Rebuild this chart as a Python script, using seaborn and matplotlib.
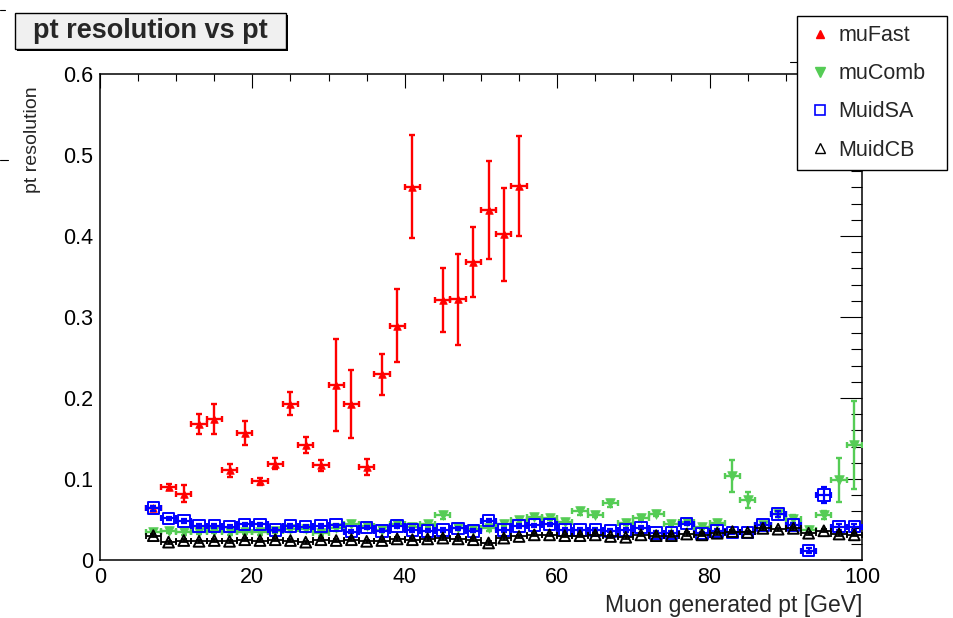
import numpy as np
import pandas as pd
import matplotlib
matplotlib.use("Agg")
import matplotlib.pyplot as plt
from matplotlib.lines import Line2D
from matplotlib.patches import Rectangle
from matplotlib.ticker import MultipleLocator, FuncFormatter
import seaborn as sns

# ---- data ------------------------------------------------------------------
pt_bins = [7, 9, 11, 13, 15, 17, 19, 21, 23, 25, 27, 29, 31, 33, 35, 37, 39, 41,
           43, 45, 47, 49, 51, 53, 55, 57, 59, 61, 63, 65, 67, 69, 71, 73, 75, 77,
           79, 81, 83, 85, 87, 89, 91, 93, 95, 97, 99]

mufast_pt  = [7, 9, 11, 13, 15, 17, 19, 21, 23, 25, 27, 29, 31, 33, 35, 37, 39,
              41, 45, 47, 49, 51, 53, 55]
mufast_res = [0.064, 0.090, 0.082, 0.168, 0.174, 0.111, 0.157, 0.097, 0.119,
              0.193, 0.142, 0.117, 0.216, 0.193, 0.115, 0.229, 0.289, 0.461,
              0.321, 0.322, 0.368, 0.432, 0.402, 0.462]
mufast_err = [0.003, 0.004, 0.010, 0.012, 0.019, 0.008, 0.015, 0.004, 0.007,
              0.014, 0.010, 0.007, 0.057, 0.042, 0.010, 0.025, 0.045, 0.064,
              0.040, 0.056, 0.043, 0.061, 0.057, 0.062]

mucomb_res = [0.034, 0.036, 0.034, 0.035, 0.036, 0.034, 0.035, 0.034, 0.036,
              0.038, 0.038, 0.033, 0.039, 0.045, 0.042, 0.037, 0.045, 0.041,
              0.044, 0.055, 0.040, 0.038, 0.039, 0.045, 0.049, 0.053, 0.052,
              0.047, 0.060, 0.056, 0.070, 0.046, 0.052, 0.057, 0.045, 0.047,
              0.041, 0.046, 0.104, 0.074, 0.043, 0.057, 0.051, 0.037, 0.056,
              0.099, 0.142]
mucomb_err = [0.003, 0.003, 0.003, 0.003, 0.003, 0.003, 0.003, 0.003, 0.003,
              0.003, 0.003, 0.003, 0.003, 0.003, 0.003, 0.003, 0.003, 0.003,
              0.003, 0.004, 0.003, 0.003, 0.003, 0.003, 0.003, 0.003, 0.003,
              0.003, 0.004, 0.003, 0.004, 0.003, 0.003, 0.003, 0.003, 0.003,
              0.003, 0.003, 0.020, 0.010, 0.004, 0.004, 0.005, 0.004, 0.005,
              0.027, 0.054]

muidsa_res = [0.064, 0.0515, 0.048, 0.042, 0.042, 0.041, 0.044, 0.044, 0.037,
              0.042, 0.041, 0.042, 0.043, 0.035, 0.040, 0.036, 0.042, 0.037,
              0.036, 0.037, 0.039, 0.036, 0.0485, 0.037, 0.042, 0.043, 0.044,
              0.037, 0.037, 0.037, 0.036, 0.037, 0.040, 0.0335, 0.0335, 0.045,
              0.033, 0.036, 0.034, 0.034, 0.043, 0.057, 0.043, 0.0115, 0.080,
              0.041, 0.041]
muidsa_err = [0.003, 0.002, 0.002, 0.002, 0.002, 0.002, 0.002, 0.002, 0.002,
              0.002, 0.002, 0.002, 0.002, 0.002, 0.002, 0.002, 0.002, 0.002,
              0.002, 0.002, 0.002, 0.002, 0.002, 0.002, 0.002, 0.002, 0.002,
              0.002, 0.002, 0.002, 0.002, 0.002, 0.002, 0.002, 0.002, 0.002,
              0.002, 0.002, 0.002, 0.002, 0.003, 0.004, 0.003, 0.003, 0.010,
              0.004, 0.004]

muidcb_res = [0.030, 0.022, 0.024, 0.023, 0.024, 0.023, 0.025, 0.024, 0.025,
              0.024, 0.022, 0.025, 0.024, 0.025, 0.023, 0.024, 0.026, 0.025,
              0.026, 0.027, 0.026, 0.025, 0.021, 0.027, 0.029, 0.031, 0.031,
              0.030, 0.030, 0.031, 0.029, 0.028, 0.031, 0.030, 0.030, 0.032,
              0.031, 0.033, 0.035, 0.034, 0.039, 0.038, 0.039, 0.033, 0.036,
              0.032, 0.031]
muidcb_err = [0.002] * len(pt_bins)

series_names = ["muFast", "muComb", "MuidSA", "MuidCB"]
BIN_HALF = 1.0

# ---- style ------------------------------------------------------------------
sns.set_theme(style="white")
plt.rcParams["font.family"] = ["Liberation Sans", "DejaVu Sans"]

fig = plt.figure(figsize=(9.54, 6.18), dpi=100, facecolor="white")
ax = fig.add_axes([0.1048, 0.0939, 0.7987, 0.7864])

GREEN = "#55cc55"
styles = [
    # name, x, y, err, colour, marker, filled, size (pt^2), line width
    ("muFast", mufast_pt, mufast_res, mufast_err, "#ff0000", "^", True, 30, 1.7),
    ("muComb", pt_bins, mucomb_res, mucomb_err, GREEN, "v", True, 48, 1.7),
    ("MuidSA", pt_bins, muidsa_res, muidsa_err, "#0000ff", "s", False, 68, 1.6),
    ("MuidCB", pt_bins, muidcb_res, muidcb_err, "black", "^", False, 60, 1.3),
]

for i, (name, xs, ys, es, col, mk, filled, size, lw) in enumerate(styles):
    df = pd.DataFrame({"pt": xs, "res": ys, "err": es})
    z = 3 + 2 * i
    ax.errorbar(df["pt"], df["res"], yerr=df["err"], xerr=BIN_HALF, fmt="none",
                ecolor=col, elinewidth=lw, capsize=2.5, capthick=lw, zorder=z)
    if filled:
        sns.scatterplot(data=df, x="pt", y="res", ax=ax, marker=mk, s=size,
                        color=col, edgecolor=col, linewidth=0.5, legend=False,
                        zorder=z + 1)
    else:
        sns.scatterplot(data=df, x="pt", y="res", ax=ax, marker=mk, s=size,
                        facecolor="none", edgecolor=col, linewidth=1.4,
                        legend=False, zorder=z + 1)

# ---- axes -------------------------------------------------------------------
ax.set_xlim(0, 100)
ax.set_ylim(0, 0.6)
ax.xaxis.set_major_locator(MultipleLocator(20))
ax.xaxis.set_minor_locator(MultipleLocator(5))
ax.yaxis.set_major_locator(MultipleLocator(0.1))
ax.yaxis.set_minor_locator(MultipleLocator(0.02))
ax.yaxis.set_major_formatter(FuncFormatter(lambda v, p: "0" if abs(v) < 1e-9 else f"{v:.1f}"))
ax.xaxis.set_major_formatter(FuncFormatter(lambda v, p: f"{v:.0f}"))

ax.tick_params(which="both", direction="in", top=True, right=True, width=0.8,
               colors="black", labelsize=15.5)
ax.xaxis.set_tick_params(which="major", length=10, pad=5)
ax.xaxis.set_tick_params(which="minor", length=5)
ax.yaxis.set_tick_params(which="major", length=16, pad=5)
ax.yaxis.set_tick_params(which="minor", length=8)
for sp in ax.spines.values():
    sp.set_color("black")
    sp.set_linewidth(1.1)

ax.set_xlabel("Muon generated pt [GeV]", loc="right", fontsize=16.5)
ax.xaxis.set_label_coords(1.0, -0.07)
ax.set_ylabel("pt resolution", loc="top", fontsize=14)
ax.yaxis.set_label_coords(-0.078, 0.975)

# ---- legend -----------------------------------------------------------------
handles = [
    Line2D([], [], ls="none", marker="^", color="#ff0000", markersize=6),
    Line2D([], [], ls="none", marker="v", color=GREEN, markersize=7),
    Line2D([], [], ls="none", marker="s", markerfacecolor="none",
           markeredgecolor="#0000ff", markeredgewidth=1.2, markersize=7),
    Line2D([], [], ls="none", marker="^", markerfacecolor="none",
           markeredgecolor="black", markeredgewidth=1.0, markersize=7),
]
leg = fig.legend(handles, series_names, loc="upper left",
                 bbox_to_anchor=(0.8354, 0.7346, 0.1572, 0.2395), mode="expand",
                 frameon=True, fancybox=False, edgecolor="black", facecolor="white",
                 framealpha=1, fontsize=15.5, borderpad=0.42, labelspacing=0.8,
                 handlelength=1.3, handletextpad=0.2, borderaxespad=0)
leg.get_frame().set_linewidth(1.0)

# ---- title box --------------------------------------------------------------
W, H = 954.0, 618.0
fig.add_artist(Rectangle((17 / W, 1 - 51 / H), 271 / W, 36 / H,
                         transform=fig.transFigure, facecolor="black",
                         edgecolor="none", zorder=5))
fig.add_artist(Rectangle((15 / W, 1 - 49 / H), 271 / W, 36 / H,
                         transform=fig.transFigure, facecolor="#f0f0f0",
                         edgecolor="black", linewidth=1.0, zorder=6))
fig.text(150 / W, 1 - 31 / H, "pt resolution vs pt", ha="center", va="center",
         fontsize=19.5, fontweight="bold", zorder=7)

# small stray frame marks seen in the reference
for xa, xb, yy in [(0, 8, 160), (0, 5, 10), (790, 797, 62)]:
    fig.add_artist(Line2D([xa / W, xb / W], [1 - yy / H, 1 - yy / H],
                          transform=fig.transFigure, color="black", lw=0.8,
                          zorder=10))

fig.savefig("out.png", dpi=100, facecolor="white")
